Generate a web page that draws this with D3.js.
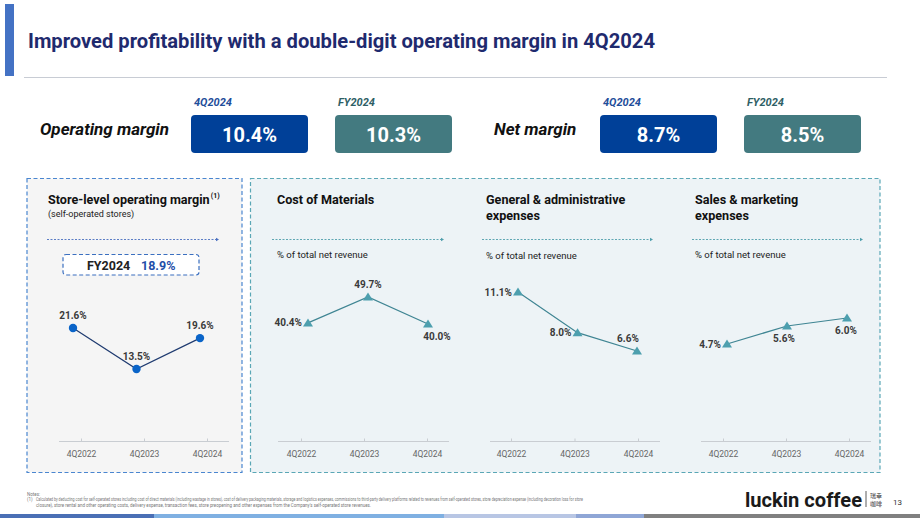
<!DOCTYPE html>
<html>
<head>
<meta charset="utf-8">
<script src="https://cdn.jsdelivr.net/npm/d3@7"></script>
<style>
  body { margin: 0; background: #fff; }
  svg text { font-family: Roboto, "Noto Sans", sans-serif; }
</style>
</head>
<body>
<script>
/*** data ***/
const categories = ["4Q2022", "4Q2023", "4Q2024"]
const storeMargin = [21.6, 13.5, 19.6]
const costMaterials = [40.4, 49.7, 40.0]
const gaExpenses = [11.1, 8.0, 6.6]
const smExpenses = [4.7, 5.6, 6.0]

const headlinePeriods = ["4Q2024", "FY2024"]
const operatingMargin = [10.4, 10.3]
const netMargin = [8.7, 8.5]
const storeMarginFY = 18.9

const W = 920, H = 518

let svg = d3.select("body").append("svg")
    .attr("width", W)
    .attr("height", H)

/* header */
svg.append("rect").attr("x", 5).attr("y", 4).attr("width", 9).attr("height", 72).attr("fill", "#4472c4")
svg.append("text")
    .attr("x", 28).attr("y", 48)
    .attr("fill", "#1f2a6e")
    .style("font-size", "19.5px").style("font-weight", 700)
    .attr("textLength", 627).attr("lengthAdjust", "spacingAndGlyphs")
    .text("Improved profitability with a double-digit operating margin in 4Q2024")
svg.append("line").attr("x1", 24).attr("x2", 887).attr("y1", 77.5).attr("y2", 77.5)
    .attr("stroke", "#c8ccd4").attr("stroke-width", 1)

/* headline boxes */
const boxColors = ["#004098", "#437a80"]
const periodColors = ["#1f4e9a", "#2f5f66"]

function headline(label, labelX, boxXs, values) {
    svg.append("text")
        .attr("x", labelX).attr("y", 135)
        .attr("fill", "#111")
        .style("font-size", "17px").style("font-weight", 700).style("font-style", "italic")
        .text(label)
    values.forEach((v, i) => {
        svg.append("text")
            .attr("x", boxXs[i] + 3).attr("y", 106)
            .attr("fill", periodColors[i])
            .style("font-size", "11px").style("font-weight", 700).style("font-style", "italic")
            .text(headlinePeriods[i])
        svg.append("rect")
            .attr("x", boxXs[i]).attr("y", 115)
            .attr("width", 117).attr("height", 38).attr("rx", 4)
            .attr("fill", boxColors[i])
        svg.append("text")
            .attr("x", boxXs[i] + 58.5).attr("y", 141.5)
            .attr("text-anchor", "middle")
            .attr("fill", "#fff")
            .style("font-size", "20px").style("font-weight", 700)
            .text(v.toFixed(1) + "%")
    })
}
headline("Operating margin", 40, [191, 335], operatingMargin)
headline("Net margin", 494, [600, 744], netMargin)

/* panels */
svg.append("rect").attr("x", 27).attr("y", 178.5).attr("width", 215).attr("height", 294)
    .attr("fill", "#f5f5f5").attr("stroke", "#4a86d0").attr("stroke-width", 1.2).attr("stroke-dasharray", "4,2.5")
svg.append("rect").attr("x", 250.5).attr("y", 178.5).attr("width", 629.5).attr("height", 294)
    .attr("fill", "#edf3f6").attr("stroke", "#5aa7b6").attr("stroke-width", 1.2).attr("stroke-dasharray", "4,2.5")

function dottedArrow(x1, x2, y, color) {
    svg.append("line").attr("x1", x1).attr("x2", x2 - 2).attr("y1", y).attr("y2", y)
        .attr("stroke", color).attr("stroke-width", 0.9).attr("stroke-dasharray", "2,1.5")
    svg.append("path")
        .attr("d", `M${x2 - 3},${y - 1.8} L${x2},${y} L${x2 - 3},${y + 1.8} Z`)
        .attr("fill", color)
}

function titleLines(x, lines) {
    let last
    lines.forEach((t, i) => {
        last = svg.append("text")
            .attr("x", x).attr("y", 204 + i * 16)
            .attr("fill", "#111")
            .style("font-size", "12.6px").style("font-weight", 700)
            .text(t)
    })
    return last
}

function subText(x, y, t, size) {
    svg.append("text").attr("x", x).attr("y", y)
        .attr("fill", "#222").style("font-size", (size || 9.5) + "px")
        .text(t)
}

function drawChart(o) {
    let tickScale = d3.scalePoint().domain(categories).range(o.tickRange)
    let markScale = d3.scalePoint().domain(categories).range(o.markRange)
    let yScale = d3.scaleLinear().domain(o.yDomain).range(o.yRange)

    let g = svg.append("g")

    g.append("line")
        .attr("x1", o.axisExtent[0]).attr("x2", o.axisExtent[1])
        .attr("y1", 441.5).attr("y2", 441.5)
        .attr("stroke", "#c9cdd2").attr("stroke-width", 1)

    let axis = g.append("g")
        .attr("transform", "translate(0,441.5)")
        .call(d3.axisBottom(tickScale).tickSizeInner(-3).tickSizeOuter(0).tickPadding(9))
    axis.select(".domain").remove()
    axis.selectAll("line").attr("stroke", "#c9cdd2")
    axis.selectAll("text")
        .attr("fill", "#666")
        .style("font-size", "8.5px")
        .style("font-family", "Roboto, 'Noto Sans', sans-serif")

    let line = d3.line()
        .x((d, i) => markScale(categories[i]))
        .y(d => yScale(d))
    g.append("path")
        .attr("d", line(o.values))
        .attr("fill", "none")
        .attr("stroke", o.lineColor)
        .attr("stroke-width", 1.2)

    if (o.marker === "circle") {
        g.selectAll(".mk").data(o.values).enter()
            .append("circle")
            .attr("cx", (d, i) => markScale(categories[i]))
            .attr("cy", d => yScale(d))
            .attr("r", 4.2)
            .attr("fill", o.markColor)
    } else {
        g.selectAll(".mk").data(o.values).enter()
            .append("path")
            .attr("transform", (d, i) => `translate(${markScale(categories[i])},${yScale(d)})`)
            .attr("d", "M0,-4.5 L5,3.5 L-5,3.5 Z")
            .attr("fill", o.markColor)
    }

    g.selectAll(".lbl").data(o.values).enter()
        .append("text")
        .attr("x", (d, i) => {
            let p = o.labels[i], x = markScale(categories[i])
            return p === "left" ? x - 6 : x + (o.labelDx ? o.labelDx[i] : 0)
        })
        .attr("y", (d, i) => {
            let p = o.labels[i], y = yScale(d)
            if (p === "top") return y - 9
            if (p === "bottom") return y + 16
            return y + 3.5
        })
        .attr("text-anchor", (d, i) => o.labels[i] === "left" ? "end" : "middle")
        .attr("fill", "#3a3a3a")
        .style("font-size", "10px").style("font-weight", 700)
        .text(d => d.toFixed(1) + "%")
}

/* store-level panel */
let storeTitle = titleLines(48, ["Store-level operating margin"])
let stEnd = 48 + storeTitle.node().getComputedTextLength()
svg.append("text").attr("x", stEnd + 1).attr("y", 198).attr("fill", "#111")
    .style("font-size", "7px").style("font-weight", 700).text("(1)")
subText(48, 216.5, "(self-operated stores)", 9)
dottedArrow(47, 219, 239.5, "#4a6fc0")

svg.append("rect").attr("x", 63).attr("y", 254.5).attr("width", 136).attr("height", 20.5).attr("rx", 3)
    .attr("fill", "#fff").attr("stroke", "#3a6fc0").attr("stroke-width", 1.2).attr("stroke-dasharray", "4,2.5")
svg.append("text").attr("x", 87).attr("y", 270).attr("fill", "#222")
    .style("font-size", "12.5px").style("font-weight", 700).text("FY2024")
svg.append("text").attr("x", 141).attr("y", 270).attr("fill", "#1f4ea8")
    .style("font-size", "12.5px").style("font-weight", 700).text(storeMarginFY.toFixed(1) + "%")

drawChart({
    values: storeMargin,
    tickRange: [81, 207], markRange: [73, 200], axisExtent: [59, 229],
    yDomain: [13.5, 21.6], yRange: [369, 328],
    marker: "circle", markColor: "#0a64c8", lineColor: "#1f3b70",
    labels: ["top", "top", "top"]
})

/* cost of materials */
titleLines(277, ["Cost of Materials"])
dottedArrow(272, 444, 239.5, "#4f9eac")
subText(277, 258, "% of total net revenue")
drawChart({
    values: costMaterials,
    tickRange: [301, 427], markRange: [308, 428], axisExtent: [278, 449],
    yDomain: [40.0, 49.7], yRange: [324, 297],
    marker: "triangle", markColor: "#4d9fae", lineColor: "#3f8593",
    labels: ["left", "top", "bottom"], labelDx: [0, 0, 9]
})

/* general & administrative */
titleLines(486, ["General & administrative", "expenses"])
dottedArrow(482, 653, 239.5, "#4f9eac")
subText(486, 259, "% of total net revenue")
drawChart({
    values: gaExpenses,
    tickRange: [511, 638], markRange: [518, 637], axisExtent: [490, 660],
    yDomain: [6.6, 11.1], yRange: [351, 292],
    marker: "triangle", markColor: "#4d9fae", lineColor: "#3f8593",
    labels: ["left", "left", "top"], labelDx: [0, 0, -9]
})

/* sales & marketing */
titleLines(695, ["Sales & marketing", "expenses"])
dottedArrow(692, 863, 239.5, "#4f9eac")
subText(695, 258, "% of total net revenue")
drawChart({
    values: smExpenses,
    tickRange: [723, 849], markRange: [727, 847], axisExtent: [701, 871],
    yDomain: [4.7, 6.0], yRange: [344, 318],
    marker: "triangle", markColor: "#4d9fae", lineColor: "#3f8593",
    labels: ["left", "bottom", "bottom"], labelDx: [0, -3, -1]
})

/* notes */
svg.append("text").attr("x", 27).attr("y", 496).attr("fill", "#777").style("font-size", "4.5px").text("Notes:")
svg.append("text").attr("x", 27).attr("y", 501).attr("fill", "#777").style("font-size", "4.5px").text("(1)")
svg.append("text").attr("x", 36).attr("y", 501).attr("fill", "#777").style("font-size", "4.5px")
    .attr("textLength", 547).attr("lengthAdjust", "spacingAndGlyphs")
    .text("Calculated by deducting cost for self-operated stores including cost of direct materials (including wastage in stores), cost of delivery packaging materials, storage and logistics expenses, commissions to third-party delivery platforms related to revenues from self-operated stores, store depreciation expense (including decoration loss for store")
svg.append("text").attr("x", 36).attr("y", 507).attr("fill", "#777").style("font-size", "4.5px")
    .attr("textLength", 335).attr("lengthAdjust", "spacingAndGlyphs")
    .text("closure), store rental and other operating costs, delivery expense, transaction fees, store preopening and other expenses from the Company's self-operated store revenues.")

/* logo */
svg.append("text").attr("x", 745).attr("y", 507).attr("fill", "#1a1a1a")
    .style("font-size", "20px").style("font-weight", 700)
    .attr("textLength", 117).attr("lengthAdjust", "spacingAndGlyphs")
    .text("luckin coffee")
svg.append("line").attr("x1", 866).attr("x2", 866).attr("y1", 491).attr("y2", 507).attr("stroke", "#333").attr("stroke-width", 0.8)
svg.append("text").attr("x", 870).attr("y", 498).attr("fill", "#333")
    .style("font-family", "'Noto Sans CJK SC'").style("font-size", "6px").text("瑞幸")
svg.append("text").attr("x", 870).attr("y", 506).attr("fill", "#333")
    .style("font-family", "'Noto Sans CJK SC'").style("font-size", "6px").text("咖啡")
svg.append("text").attr("x", 893).attr("y", 505).attr("fill", "#333").style("font-size", "8px").text("13")

/* bottom bar */
const barStops = [0, 154, 444, 576, 644, 920]
const barColors = ["#4a6fb5", "#7fb0e2", "#b8c6e4", "#8fa6d6", "#808080"]
barColors.forEach((c, i) => {
    svg.append("rect").attr("x", barStops[i]).attr("y", 514)
        .attr("width", barStops[i + 1] - barStops[i]).attr("height", 4).attr("fill", c)
})
</script>
</body>
</html>
